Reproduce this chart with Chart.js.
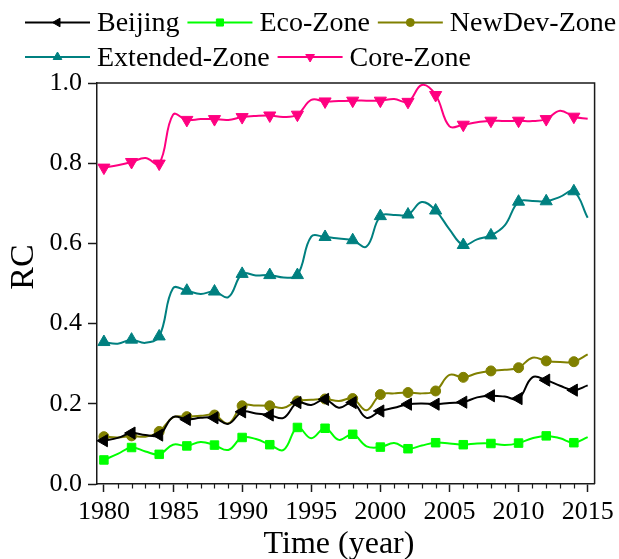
<!DOCTYPE html>
<html>
<head>
<meta charset="utf-8">
<script src="https://cdn.jsdelivr.net/npm/chart.js@4.4.1/dist/chart.umd.min.js"></script>
<style>
  html, body { margin: 0; padding: 0; background: #ffffff; }
  #wrap { width: 619px; height: 559px; }
</style>
</head>
<body>
<div id="wrap"><canvas id="c" width="619" height="559"></canvas></div>
<script>
// Annual RC values, 1980-2015
const years = [1980, 1981, 1982, 1983, 1984, 1985, 1986, 1987, 1988, 1989,
               1990, 1991, 1992, 1993, 1994, 1995, 1996, 1997, 1998, 1999,
               2000, 2001, 2002, 2003, 2004, 2005, 2006, 2007, 2008, 2009,
               2010, 2011, 2012, 2013, 2014, 2015];

const beijing = [0.108, 0.115, 0.127, 0.122, 0.122, 0.167, 0.161, 0.165, 0.165, 0.150,
                 0.180, 0.176, 0.172, 0.165, 0.203, 0.197, 0.211, 0.190, 0.203, 0.165,
                 0.182, 0.190, 0.199, 0.201, 0.199, 0.202, 0.204, 0.216, 0.220, 0.218,
                 0.213, 0.266, 0.259, 0.245, 0.234, 0.246];

const ecoZone = [0.060, 0.075, 0.091, 0.081, 0.074, 0.098, 0.095, 0.105, 0.097, 0.085,
                 0.116, 0.112, 0.098, 0.085, 0.141, 0.114, 0.139, 0.110, 0.124, 0.094,
                 0.092, 0.102, 0.088, 0.096, 0.103, 0.101, 0.098, 0.101, 0.101, 0.097,
                 0.102, 0.114, 0.120, 0.114, 0.103, 0.117];

const newDevZone = [0.118, 0.116, 0.120, 0.118, 0.131, 0.166, 0.168, 0.170, 0.172, 0.151,
                    0.195, 0.196, 0.195, 0.190, 0.207, 0.210, 0.212, 0.207, 0.213, 0.184,
                    0.223, 0.226, 0.228, 0.226, 0.232, 0.272, 0.266, 0.276, 0.282, 0.285,
                    0.290, 0.315, 0.307, 0.304, 0.305, 0.323];

const extendedZone = [0.354, 0.350, 0.360, 0.352, 0.368, 0.488, 0.482, 0.474, 0.480, 0.466,
                      0.524, 0.520, 0.521, 0.515, 0.521, 0.617, 0.616, 0.612, 0.608, 0.592,
                      0.668, 0.671, 0.672, 0.703, 0.682, 0.635, 0.596, 0.610, 0.620, 0.645,
                      0.704, 0.706, 0.705, 0.716, 0.730, 0.664];

const coreZone = [0.789, 0.795, 0.803, 0.813, 0.799, 0.921, 0.908, 0.910, 0.910, 0.908,
                  0.915, 0.918, 0.919, 0.915, 0.921, 0.958, 0.954, 0.955, 0.956, 0.956,
                  0.956, 0.960, 0.953, 0.995, 0.970, 0.892, 0.896, 0.902, 0.906, 0.905,
                  0.906, 0.905, 0.910, 0.931, 0.916, 0.911];

const xTickYears = [1980, 1985, 1990, 1995, 2000, 2005, 2010, 2015];
const yTickValues = [0.0, 0.2, 0.4, 0.6, 0.8, 1.0];

const seriesNames = ['Beijing', 'Eco-Zone', 'NewDev-Zone', 'Extended-Zone', 'Core-Zone'];

const SERIF = '"Liberation Serif", "Times New Roman", serif';

function toPoints(values) {
  return years.map((yr, i) => ({ x: yr, y: values[i] }));
}

// markers on every second year only
function markerRadius(r) {
  return (ctx) => {
    const yr = years[ctx.dataIndex];
    return (yr % 2 === 0 && yr < 2015) ? r : 0;
  };
}

function series(label, values, color, style, rotation, radius) {
  return {
    label: label,
    data: toPoints(values),
    borderColor: color,
    backgroundColor: color,
    borderWidth: 2,
    tension: 0.4,
    pointStyle: style,
    rotation: rotation,
    pointRotation: rotation,
    pointRadius: markerRadius(radius),
    pointBackgroundColor: color,
    pointBorderColor: color,
    pointBorderWidth: 1,
    pointHoverRadius: 0
  };
}

const datasets = [
  series(seriesNames[0], beijing, '#000000', 'triangle', 270, 7),
  series(seriesNames[1], ecoZone, '#00ff00', 'rect', 0, 6),
  series(seriesNames[2], newDevZone, '#808000', 'circle', 0, 5),
  series(seriesNames[3], extendedZone, '#008080', 'triangle', 0, 7),
  series(seriesNames[4], coreZone, '#ff0080', 'triangle', 180, 7)
];

// frame, minor ticks, two-row legend and axis titles
const decorPlugin = {
  id: 'decor',
  afterDraw(chart) {
    const ctx = chart.ctx;
    const area = chart.chartArea;
    const xs = chart.scales.x;
    ctx.save();

    // top and right edges of the plot frame
    ctx.strokeStyle = '#1a1a1a';
    ctx.lineWidth = 1.5;
    ctx.beginPath();
    ctx.moveTo(area.left, area.top);
    ctx.lineTo(area.right, area.top);
    ctx.lineTo(area.right, area.bottom);
    ctx.stroke();

    // minor year ticks
    ctx.lineWidth = 1.2;
    ctx.beginPath();
    for (let yr = 1980; yr <= 2015; yr++) {
      if (yr % 5 === 0) continue;
      const px = Math.round(xs.getPixelForValue(yr)) + 0.5;
      ctx.moveTo(px, area.bottom);
      ctx.lineTo(px, area.bottom + 4.5);
    }
    ctx.stroke();

    // legend
    const rows = [[0, 1, 2], [3, 4]];
    const lineY = [22.5, 57];
    const textY = [31, 65.5];
    ctx.font = '28px ' + SERIF;
    ctx.textAlign = 'left';
    ctx.textBaseline = 'alphabetic';
    rows.forEach((row, r) => {
      let x = 25;
      row.forEach((i) => {
        const ds = chart.data.datasets[i];
        ctx.strokeStyle = ds.borderColor;
        ctx.fillStyle = ds.borderColor;
        ctx.lineWidth = 2;
        ctx.beginPath();
        ctx.moveTo(x, lineY[r]);
        ctx.lineTo(x + 65, lineY[r]);
        ctx.stroke();
        ctx.lineWidth = 1;
        Chart.helpers.drawPoint(ctx, {
          pointStyle: ds.pointStyle,
          rotation: ds.pointRotation,
          radius: ds.pointStyle === 'circle' ? 4 : 5,
          borderWidth: 1
        }, x + 32.5, lineY[r]);
        ctx.fillStyle = '#000000';
        ctx.fillText(ds.label, x + 72, textY[r]);
        x += 72 + ctx.measureText(ds.label).width + 8;
      });
    });

    // axis titles
    ctx.fillStyle = '#000000';
    ctx.font = '32px ' + SERIF;
    ctx.textAlign = 'center';
    ctx.fillText('Time (year)', 339, 553);

    ctx.translate(33, 267);
    ctx.rotate(-Math.PI / 2);
    ctx.font = '34px ' + SERIF;
    ctx.fillText('RC', 0, 0);

    ctx.restore();
  }
};

new Chart(document.getElementById('c'), {
  type: 'line',
  data: { datasets: datasets },
  plugins: [decorPlugin],
  options: {
    responsive: false,
    animation: false,
    devicePixelRatio: 1,
    events: [],
    layout: { padding: { top: 83, right: 23, left: 0, bottom: 0 } },
    plugins: {
      legend: { display: false },
      tooltip: { enabled: false },
      title: { display: false }
    },
    scales: {
      x: {
        type: 'linear',
        min: 1979.5,
        max: 2015.5,
        afterBuildTicks: (scale) => { scale.ticks = xTickYears.map(v => ({ value: v })); },
        afterFit: (scale) => { scale.height = 75; },
        ticks: {
          color: '#000000',
          font: { family: SERIF, size: 26 },
          padding: 5,
          maxRotation: 0,
          autoSkip: false,
          callback: (v) => String(v)
        },
        grid: {
          drawOnChartArea: false,
          drawTicks: true,
          tickLength: 8,
          tickColor: '#1a1a1a',
          tickWidth: 1.5
        },
        border: { display: true, color: '#1a1a1a', width: 1.5 }
      },
      y: {
        type: 'linear',
        min: 0,
        max: 1,
        afterBuildTicks: (scale) => { scale.ticks = yTickValues.map(v => ({ value: v })); },
        afterFit: (scale) => { scale.width = 97; },
        ticks: {
          color: '#000000',
          font: { family: SERIF, size: 26 },
          padding: 6,
          autoSkip: false,
          callback: (v) => Number(v).toFixed(1)
        },
        grid: {
          drawOnChartArea: false,
          drawTicks: true,
          tickLength: 9,
          tickColor: '#1a1a1a',
          tickWidth: 1.5
        },
        border: { display: true, color: '#1a1a1a', width: 1.5 }
      }
    }
  }
});
</script>
</body>
</html>
